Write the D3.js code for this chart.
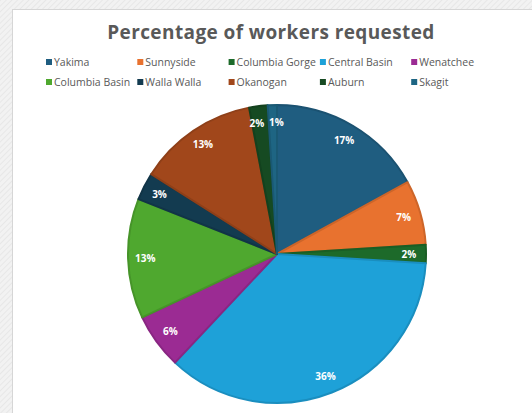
<!DOCTYPE html>
<html><head><meta charset="utf-8">
<script src="https://cdn.jsdelivr.net/npm/d3@7"></script>
<style>html,body{margin:0;padding:0;background:#fff;}svg{display:block;}</style>
</head><body>
<script>
const categories = ["Yakima","Sunnyside","Columbia Gorge","Central Basin","Wenatchee","Columbia Basin","Walla Walla","Okanogan","Auburn","Skagit"];
const values = [17,7,2,36,6,13,3,13,2,1];
const colors = ["#1f5d80","#e8722f","#1d6a2a","#1ea1d8","#9b2b93","#4fa82f","#133b50","#a1471b","#164a22","#1e6583"];
const title = "Percentage of workers requested";

const W = 532, H = 413;
const svg = d3.select("body").append("svg").attr("width", W).attr("height", H);
const defs = svg.append("defs");
const pat = defs.append("pattern").attr("id","hatch").attr("width",4).attr("height",4)
  .attr("patternUnits","userSpaceOnUse").attr("patternTransform","rotate(45)");
pat.append("rect").attr("width",4).attr("height",4).attr("fill","#f2f2f2");
pat.append("line").attr("x1",0).attr("y1",0).attr("x2",0).attr("y2",4).attr("stroke","#e4e4e4").attr("stroke-width",1.5);
svg.append("rect").attr("width",W).attr("height",H).attr("fill","url(#hatch)");
svg.append("rect").attr("x",12.5).attr("y",9.5).attr("width",W).attr("height",H).attr("fill","#fff").attr("stroke","#d6d6d6");

svg.append("text").attr("x",271).attr("y",39).attr("text-anchor","middle")
  .attr("font-family","Open Sans").attr("font-weight","bold").attr("font-size",19)
  .attr("letter-spacing",0.4).attr("fill","#595959").text(title);

// legend
const legend = svg.append("g");
categories.forEach((c,i)=>{
  const col = i%5, row = Math.floor(i/5);
  const x = 46 + col*91.3, y = 62 + row*20;
  legend.append("rect").attr("x",x).attr("y",y-3).attr("width",6).attr("height",6).attr("fill",colors[i]);
  legend.append("text").attr("x",x+8).attr("y",y+4).attr("font-family","Open Sans").attr("font-size",10.5)
    .attr("fill","#595959").text(c);
});

const cx = 277, cy = 254, r = 149;
const pie = d3.pie().sort(null).value(d=>d)(values);
const arc = d3.arc().innerRadius(0).outerRadius(r);
const labelArc = d3.arc().innerRadius(r*0.885).outerRadius(r*0.885);
const g = svg.append("g").attr("transform",`translate(${cx},${cy})`);
g.selectAll("path").data(pie).join("path")
  .attr("d",arc).attr("fill",(d,i)=>colors[i])
  .attr("stroke",(d,i)=>d3.color(colors[i]).darker(0.35)).attr("stroke-width",2).attr("stroke-linejoin","round");
// small horizontal nudge for the two tiny adjacent slices so labels don't collide
const nudge = i => (i === 8 ? -3.5 : i === 9 ? 3.5 : 0);
g.selectAll("text").data(pie).join("text")
  .attr("transform",(d,i)=>{const [x,y]=labelArc.centroid(d); return `translate(${x+nudge(i)},${y})`;})
  .attr("text-anchor","middle").attr("dy","0.35em")
  .attr("font-family","Open Sans").attr("font-weight","bold").attr("font-size",10)
  .attr("fill","#fff").text(d=>d.data+"%");
</script>
</body></html>
